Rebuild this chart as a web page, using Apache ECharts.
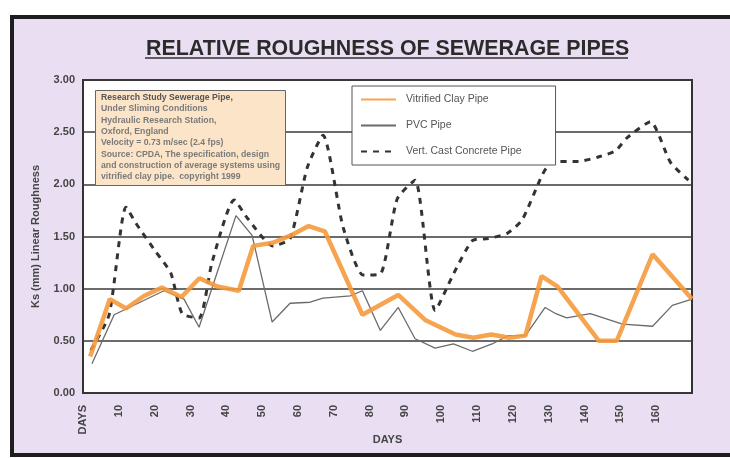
<!DOCTYPE html>
<html>
<head>
<meta charset="utf-8">
<script src="https://cdn.jsdelivr.net/npm/echarts@6/dist/echarts.min.js"></script>
<style>
  html, body { margin: 0; padding: 0; background: #fff; }
  #chart { width: 730px; height: 458px; }
</style>
</head>
<body>
<div id="chart"></div>
<script>
// values: day, Ks (mm)
var clayDays = [2, 7.5, 12, 17, 22, 27.5, 32.5, 37.5, 43.5, 47.5, 53, 58, 63, 67.5, 78, 88, 95.5, 104, 109, 114, 119, 123.5, 128, 132.5, 144, 149, 159, 170];
var clayKs   = [0.35, 0.9, 0.81, 0.93, 1.01, 0.92, 1.1, 1.02, 0.98, 1.41, 1.44, 1.51, 1.6, 1.55, 0.75, 0.94, 0.7, 0.56, 0.53, 0.56, 0.53, 0.55, 1.12, 1.02, 0.5, 0.5, 1.33, 0.9];

var pvcDays = [2.5, 8.7, 12.3, 22.6, 28.2, 32.4, 42.7, 47.2, 52.8, 57.8, 63.4, 67, 74.6, 78, 83, 88, 92.7, 98.3, 103.4, 108.7, 114.2, 118.7, 123.5, 129, 132, 135, 141.6, 150.6, 159, 164.5, 170];
var pvcKs   = [0.28, 0.75, 0.81, 0.98, 0.9, 0.63, 1.7, 1.51, 0.68, 0.86, 0.87, 0.91, 0.93, 0.98, 0.6, 0.82, 0.52, 0.43, 0.47, 0.4, 0.47, 0.55, 0.55, 0.82, 0.76, 0.72, 0.76, 0.66, 0.64, 0.84, 0.9];

var concreteDays = [2.2, 7.3, 12, 15.1, 20.4, 24.5, 27.7, 32.4, 36, 42.2, 45.8, 53, 57.8, 62.6, 67, 72.6, 78.2, 83, 87.7, 92.7, 98.3, 103.4, 108.7, 113.1, 118.4, 122.6, 128.2, 131, 138.3, 143.6, 148.6, 152, 158.4, 164, 169];
var concreteKs   = [0.41, 0.75, 1.78, 1.61, 1.35, 1.15, 0.76, 0.72, 1.25, 1.85, 1.68, 1.41, 1.48, 2.16, 2.47, 1.59, 1.13, 1.14, 1.86, 2.04, 0.79, 1.14, 1.46, 1.48, 1.53, 1.66, 2.09, 2.22, 2.22, 2.26, 2.32, 2.45, 2.6, 2.21, 2.04];

var noteLines = [
  'Under Sliming Conditions',
  'Hydraulic Research Station,',
  'Oxford, England',
  'Velocity = 0.73 m/sec (2.4 fps)',
  'Source: CPDA, The specification, design',
  'and construction of average systems using',
  'vitrified clay pipe.  copyright 1999'
];

function pairs(xs, ys) {
  var out = [];
  for (var i = 0; i < xs.length; i++) out.push([xs[i], ys[i]]);
  return out;
}

var font = '"Liberation Sans", Arial, sans-serif';
var chart = echarts.init(document.getElementById('chart'));

var option = {
  backgroundColor: '#fff',
  textStyle: { fontFamily: font },
  graphic: [
    {
      // lavender panel with black frame
      type: 'rect', z: -10, silent: true,
      shape: { x: 12, y: 17, width: 740, height: 438 },
      style: { fill: '#eadff2', stroke: '#1e1e1e', lineWidth: 4 }
    },
    {
      // title underline
      type: 'line', silent: true,
      shape: { x1: 145, y1: 58, x2: 628, y2: 58 },
      style: { stroke: '#333', lineWidth: 1.5 }
    }
  ],
  title: [
    {
      text: 'RELATIVE ROUGHNESS OF SEWERAGE PIPES',
      left: 141,
      top: 34,
      textStyle: { fontFamily: font, fontSize: 21.4, fontWeight: 'bold', color: '#2b2b2b' }
    },
    {
      text: '{b|Research Study Sewerage Pipe,}\n' + noteLines.map(function (s) { return '{r|' + s + '}'; }).join('\n'),
      left: 95,
      top: 89,
      backgroundColor: '#fbe4c7',
      borderColor: '#666',
      borderWidth: 1,
      padding: [3, 6, 4, 6],
      textStyle: {
        rich: {
          b: { fontFamily: font, fontSize: 8.7, fontWeight: 'bold', color: '#555', lineHeight: 11.3 },
          r: { fontFamily: font, fontSize: 8.7, color: '#7a7a7a', lineHeight: 11.3 }
        }
      }
    }
  ],
  legend: {
    orient: 'vertical',
    left: 352,
    top: 86,
    itemWidth: 35,
    itemHeight: 10,
    itemGap: 15,
    padding: [8, 34, 8, 8],
    backgroundColor: '#fff',
    borderColor: '#555',
    borderWidth: 1,
    itemStyle: { opacity: 0 },
    textStyle: { fontFamily: font, fontSize: 10.5, color: '#555', padding: [0, 0, 0, 5] },
    data: ['Vitrified Clay Pipe', 'PVC Pipe', 'Vert. Cast Concrete Pipe']
  },
  grid: {
    left: 83, right: 38, top: 80, bottom: 65,
    show: true,
    backgroundColor: '#fff',
    borderColor: '#333',
    borderWidth: 2
  },
  xAxis: {
    type: 'value',
    min: 0, max: 170, interval: 10,
    name: 'DAYS',
    nameLocation: 'middle',
    nameGap: 41,
    nameMoveOverlap: false,
    nameTextStyle: { fontFamily: font, fontSize: 11, fontWeight: 'bold', color: '#444' },
    axisLine: { show: false },
    axisTick: { show: false },
    splitLine: { show: false },
    axisLabel: {
      rotate: 90,
      margin: 12,
      showMaxLabel: false,
      fontFamily: font, fontSize: 11, fontWeight: 'bold', color: '#444',
      formatter: function (v) { return v === 0 ? 'DAYS' : v; }
    }
  },
  yAxis: {
    type: 'value',
    min: 0, max: 3, interval: 0.5,
    name: 'Ks (mm) Linear Roughness',
    nameLocation: 'middle',
    nameRotate: 90,
    nameGap: 42,
    nameTextStyle: { fontFamily: font, fontSize: 11, fontWeight: 'bold', color: '#444' },
    axisLine: { show: false },
    axisTick: { show: false },
    axisLabel: {
      margin: 8,
      fontFamily: font, fontSize: 11, fontWeight: 'bold', color: '#444',
      formatter: function (v) { return v.toFixed(2); }
    },
    splitLine: { lineStyle: { color: '#3a3a3a', width: 1.5 } }
  },
  series: [
    {
      name: 'Vert. Cast Concrete Pipe',
      type: 'line',
      symbol: 'none',
      smooth: 0.2,
      z: 2,
      lineStyle: { color: '#333', width: 3, type: [6, 6] },
      itemStyle: { color: '#333' },
      data: pairs(concreteDays, concreteKs)
    },
    {
      name: 'PVC Pipe',
      type: 'line',
      symbol: 'none',
      z: 3,
      lineStyle: { color: '#6b6b6b', width: 1.3 },
      itemStyle: { color: '#6b6b6b' },
      data: pairs(pvcDays, pvcKs)
    },
    {
      name: 'Vitrified Clay Pipe',
      type: 'line',
      symbol: 'none',
      z: 4,
      lineStyle: { color: '#f59a3c', width: 4.5, opacity: 0.9 },
      itemStyle: { color: '#f59a3c' },
      data: pairs(clayDays, clayKs)
    }
  ]
};

chart.setOption(option);
</script>
</body>
</html>
